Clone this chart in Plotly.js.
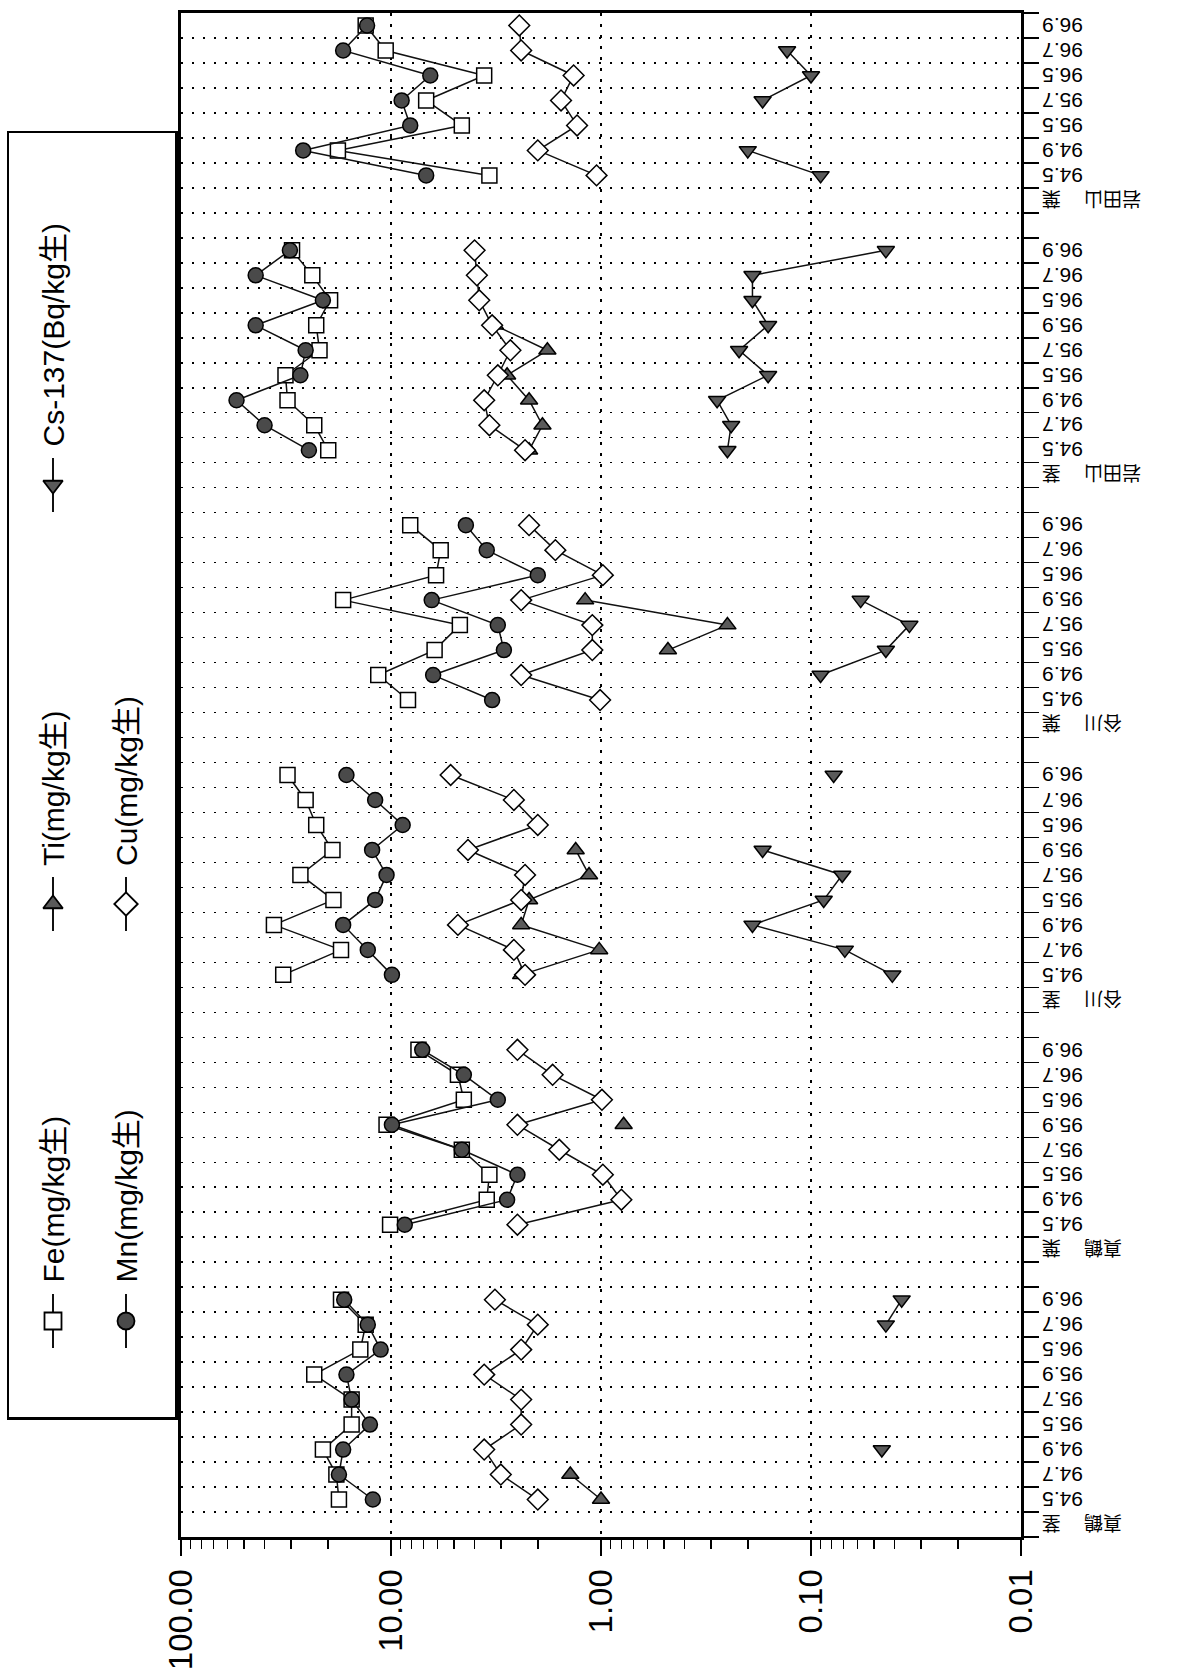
<!DOCTYPE html>
<html><head><meta charset="utf-8">
<script src="https://cdn.plot.ly/plotly-3.0.1.min.js"></script>
<style>html,body{margin:0;padding:0;background:#fff}#chart{width:1204px;height:1670px}</style>
</head><body><div id="chart"></div>
<script>
// ---- data (bottom group first) ----
const sites = ['真鶴','真鶴','谷川','谷川','岩田山','岩田山'];
const parts = ['茎','葉','茎','葉','茎','葉'];
const datesFull = ['94.5','94.7','94.9','95.5','95.7','95.9','96.5','96.7','96.9'];
const datesLeaf = ['94.5','94.9','95.5','95.7','95.9','96.5','96.7','96.9'];
const datesLeafShort = ['94.5','94.9','95.5','95.7','96.5','96.7','96.9'];
const groupDates = [datesFull, datesLeaf, datesFull, datesLeaf, datesFull, datesLeafShort];

const fe = [
  [17.7, 18.2, 21.1, 15.4, 15.4, 23.2, 14.0, 13.2, 17.3],
  [10.1, 3.5, 3.4, 4.6, 10.5, 4.5, 4.8, 7.4],
  [32.6, 17.3, 36.1, 18.8, 27.0, 19.0, 22.7, 25.5, 31.1],
  [8.3, 11.5, 6.2, 4.7, 16.9, 6.1, 5.8, 8.1],
  [19.9, 23.2, 31.1, 31.8, 21.9, 22.7, 19.5, 23.7, 29.6],
  [3.4, 17.9, 4.6, 6.8, 3.6, 10.6, 13.2]
];
const mn = [
  [12.2, 17.7, 16.9, 12.6, 15.4, 16.3, 11.2, 12.9, 16.7],
  [8.6, 2.8, 2.5, 4.6, 9.9, 3.1, 4.5, 7.1],
  [9.9, 12.9, 16.9, 11.9, 10.5, 12.3, 8.8, 11.9, 16.3],
  [3.3, 6.3, 2.9, 3.1, 6.4, 2.0, 3.5, 4.4],
  [24.6, 40.0, 54.4, 27.0, 25.5, 44.1, 21.1, 44.1, 30.3],
  [6.8, 26.2, 8.1, 8.9, 6.5, 16.9, 13.0]
];
const ti = [
  [1.0, 1.4, null, null, null, null, null, null, null],
  [null, null, null, null, 0.78, null, null, null],
  [2.4, 1.02, 2.4, 2.2, 1.14, 1.32, null, null, null],
  [null, null, 0.48, 0.25, 1.19, null, null, null],
  [2.2, 1.9, 2.2, 2.8, 1.8, 3.2, null, null, null],
  [null, null, null, null, null, null, null]
];
const cu = [
  [2.0, 3.0, 3.6, 2.4, 2.4, 3.6, 2.4, 2.0, 3.2],
  [2.5, 0.80, 0.98, 1.58, 2.5, 0.99, 1.7, 2.5],
  [2.3, 2.6, 4.8, 2.4, 2.3, 4.3, 2.0, 2.6, 5.2],
  [1.01, 2.4, 1.1, 1.1, 2.4, 0.98, 1.65, 2.2],
  [2.3, 3.4, 3.6, 3.1, 2.7, 3.3, 3.8, 3.9, 4.0],
  [1.05, 2.0, 1.3, 1.55, 1.35, 2.4, 2.45]
];
const cs = [
  [null, null, 0.046, null, null, null, null, 0.044, 0.037],
  [null, null, null, null, null, null, null, null],
  [0.041, 0.069, 0.19, 0.087, 0.071, 0.17, null, null, 0.078],
  [null, 0.090, 0.044, 0.034, 0.058, null, null, null],
  [0.25, 0.24, 0.28, 0.16, 0.22, 0.16, 0.19, 0.19, 0.044],
  [0.090, 0.20, null, 0.17, 0.10, 0.13, null]
];
const seriesNames = ['Fe(mg/kg生)','Mn(mg/kg生)','Ti(mg/kg生)','Cu(mg/kg生)','Cs-137(Bq/kg生)'];
const valueTicks = [100, 10, 1, 0.1, 0.01];
const valueTickText = ['100.00','10.00','1.00','0.10','0.01'];

// ---- styles ----
const seriesData = [fe, mn, ti, cu, cs];
const markerStyles = [
  {symbol:'square', size:15, color:'#ffffff'},
  {symbol:'circle', size:15, color:'#4a4a4a'},
  {symbol:'triangle-up', size:15, color:'#5a5a5a'},
  {symbol:'diamond', size:16, color:'#ffffff'},
  {symbol:'triangle-down', size:15, color:'#5a5a5a'}
];
// legend layout (in legend-box pixel frame)
const legendCol = [53, 126, 53, 126, 53];
const legendRow = [1321, 1321, 904, 904, 485];

// ---- build category positions ----
const catPos = [], catText = [], catIsGroup = [];
const ys = [];
const xs = seriesData.map(() => []);
let p = 0;
groupDates.forEach((dates, g) => {
  if (g > 0) { ys.push(p); xs.forEach(a => a.push(null)); p++; }
  catPos.push(p); catText.push(sites[g] + '\u3000 ' + parts[g]); catIsGroup.push(true);
  ys.push(p); xs.forEach(a => a.push(null)); p++;
  dates.forEach((d, j) => {
    catPos.push(p); catText.push(d); catIsGroup.push(false);
    ys.push(p); seriesData.forEach((s, k) => xs[k].push(s[g][j])); p++;
  });
});
const nCat = p;
const yTickVals = [];
for (let i = 0; i <= nCat; i++) yTickVals.push(i - 0.5);
const minorVals = [];
for (let d = -2; d < 2; d++) for (let k = 2; k <= 9; k++) minorVals.push(k * Math.pow(10, d));

const traces = seriesData.map((s, k) => ({
  type:'scatter', mode:'lines+markers', x: xs[k], y: ys, name: seriesNames[k],
  xaxis:'x', yaxis:'y', connectgaps:false, cliponaxis:false, hoverinfo:'skip',
  line:{color:'#111', width:1.5},
  marker:{symbol:markerStyles[k].symbol, size:markerStyles[k].size, color:markerStyles[k].color,
          line:{color:'#000', width:1.5}}
}));
// legend samples
seriesNames.forEach((n, k) => {
  traces.push({type:'scatter', mode:'lines', x:[legendCol[k], legendCol[k]], y:[legendRow[k]-27, legendRow[k]+27],
    xaxis:'x2', yaxis:'y2', line:{color:'#111', width:2}, hoverinfo:'skip'});
  traces.push({type:'scatter', mode:'markers', x:[legendCol[k]], y:[legendRow[k]],
    xaxis:'x2', yaxis:'y2', hoverinfo:'skip',
    marker:{symbol:markerStyles[k].symbol, size:markerStyles[k].size+2, color:markerStyles[k].color, line:{color:'#000', width:1.8}}});
});

const annotations = [];
catPos.forEach((pp, i) => {
  annotations.push({xref:'paper', x:1, xshift:20, xanchor:'left', yref:'y', y:pp, yanchor:'middle',
    text: catText[i], textangle:180, showarrow:false, borderpad:0,
    font: catIsGroup[i] ? {family:'Noto Sans CJK JP, sans-serif', size:19, color:'#000'}
                        : {family:'Liberation Sans, Arial, sans-serif', size:21, color:'#000'}});
});
seriesNames.forEach((n, k) => {
  annotations.push({xref:'x2', yref:'y2', x:legendCol[k], y:legendRow[k]-36, xanchor:'center', yanchor:'bottom',
    text:n, textangle:-90, showarrow:false,
    font:{family:'Liberation Sans, Arial, Noto Sans CJK JP, sans-serif', size:30, color:'#000'}});
});

const plotW = 1021, plotH = 1524;
const layout = {
  width:1204, height:1670, paper_bgcolor:'#fff', plot_bgcolor:'#fff',
  margin:{l:0, r:183, t:13, b:133}, showlegend:false,
  font:{family:'Liberation Sans, Arial, sans-serif', color:'#000'},
  xaxis:{type:'log', range:[2,-2], domain:[181/plotW, 1], anchor:'y',
    tickmode:'array', tickvals:valueTicks, ticktext:valueTickText, tickangle:-90,
    tickfont:{size:33, color:'#000'}, ticks:'outside', ticklen:16, tickwidth:2, tickcolor:'#000',
    showline:true, linewidth:3, linecolor:'#000', mirror:true,
    showgrid:true, gridcolor:'#000', gridwidth:1.5, griddash:'3px,8px', zeroline:false,
    minor:{tickvals:minorVals, ticks:'outside', ticklen:9, tickwidth:1.5, tickcolor:'#000', showgrid:false},
    automargin:false, fixedrange:true},
  yaxis:{range:[-0.5, nCat-0.5], side:'right', anchor:'x', tickmode:'array', tickvals:yTickVals,
    showticklabels:false, ticks:'outside', ticklen:15, tickwidth:1.5, tickcolor:'#000',
    showline:true, linewidth:3, linecolor:'#000', mirror:true,
    showgrid:true, gridcolor:'#000', gridwidth:1.5, griddash:'2px,9px', zeroline:false,
    automargin:false, fixedrange:true},
  xaxis2:{domain:[9/plotW, 175/plotW], range:[9,175], anchor:'y2', showline:true, mirror:true,
    linewidth:2.5, linecolor:'#000', showgrid:false, zeroline:false, showticklabels:false, ticks:'', fixedrange:true},
  yaxis2:{domain:[(1537-1417)/plotH, (1537-133)/plotH], range:[1417,133], anchor:'x2', showline:true, mirror:true,
    linewidth:2.5, linecolor:'#000', showgrid:false, zeroline:false, showticklabels:false, ticks:'', fixedrange:true},
  annotations: annotations
};
Plotly.newPlot('chart', traces, layout, {staticPlot:true, displayModeBar:false});
</script></body></html>
